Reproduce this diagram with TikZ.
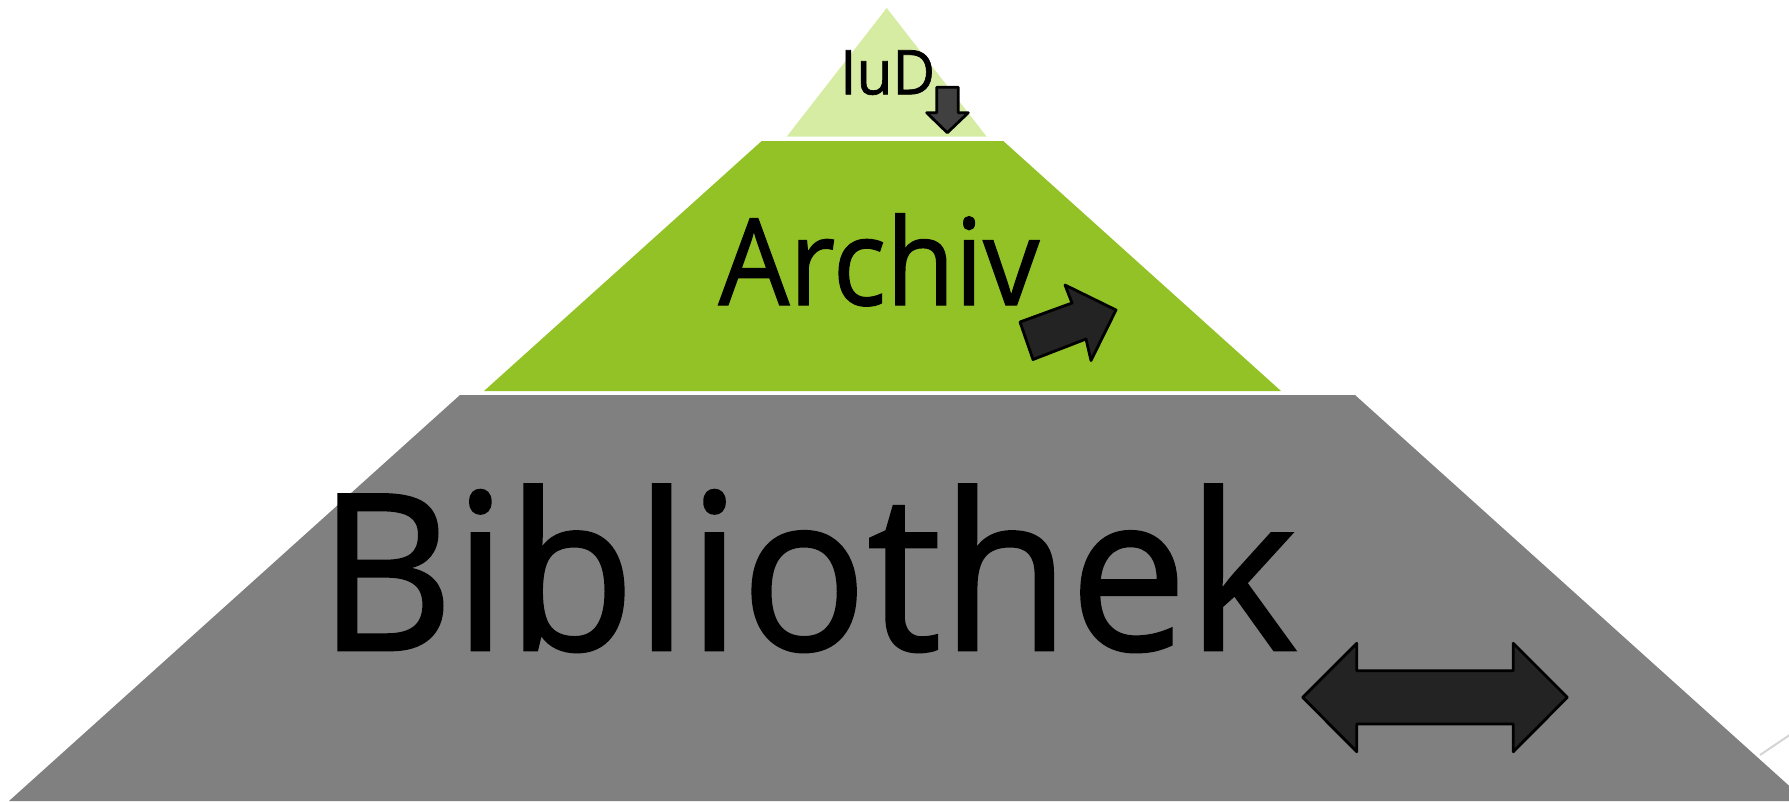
\documentclass[tikz,border=0pt]{standalone}
\usepackage{fontspec}
\setmainfont{Open Sans}
\newfontfamily\labelfont{Open Sans}[FakeBold=1.2]
\definecolor{lightgreen}{HTML}{D6ECA3}
\definecolor{midgreen}{HTML}{92C226}
\definecolor{layergray}{HTML}{808080}
\definecolor{arrowdark}{HTML}{232323}
\definecolor{arrowmid}{HTML}{404040}
\definecolor{faintline}{HTML}{D4D4D4}
\tikzset{
  layer/.style={fill=#1, draw=none},
  blockarrow/.style={fill=#1, draw=black, line width=2.8pt, line join=round},
  label/.style={inner sep=0pt, anchor=base west, text=black},
}
\begin{document}
\begin{tikzpicture}[x=1pt,y=-1pt]
\useasboundingbox (0,0) rectangle (1789,801);
\clip (0,0) rectangle (1789,801);
% layers
\fill[layer=lightgreen] (886.7,8) -- (986.7,136.7) -- (786.7,136.7) -- cycle;
\fill[layer=midgreen] (761.7,141) -- (1003.3,141) -- (1281,391) -- (484,391) -- cycle;
\fill[layer=layergray] (460,395) -- (1355,395) -- (1806,801) -- (9,801) -- cycle;
% faint line at right edge
\draw[faintline, line width=2pt] (1760,755) -- (1800,728);
% labels
\node[label, font=\labelfont\fontsize{61.6}{70}\selectfont, xscale=0.95, transform shape] (iud) at (840,94.3) {IuD};
\node[label, font=\labelfont\fontsize{120.4}{140}\selectfont, xscale=0.93, transform shape] (archiv) at (718.3,305) {Archiv};
\node[label, font=\labelfont\fontsize{218}{250}\selectfont, xscale=0.96, transform shape] (bib) at (318,650) {Bibliothek};
% arrows
\draw[blockarrow=arrowmid] (936.7,87.3) -- (958.3,87.3) -- (958.3,112.7) -- (968.3,112.7)
  -- (947.3,132.7) -- (926.7,112.7) -- (936.7,112.7) -- cycle;
\draw[blockarrow=arrowdark] (1020,322) -- (1072,303) -- (1065,285) -- (1116,310)
  -- (1091,360.5) -- (1086,339) -- (1033,359.5) -- cycle;
\draw[blockarrow=arrowdark] (1302.7,697.3) -- (1356.7,643.3) -- (1356.7,670.7) -- (1513.3,670.7)
  -- (1513.3,643.3) -- (1567.3,697.3) -- (1513.3,751.7) -- (1513.3,724) -- (1356.7,724)
  -- (1356.7,751.7) -- cycle;
\end{tikzpicture}
\end{document}
